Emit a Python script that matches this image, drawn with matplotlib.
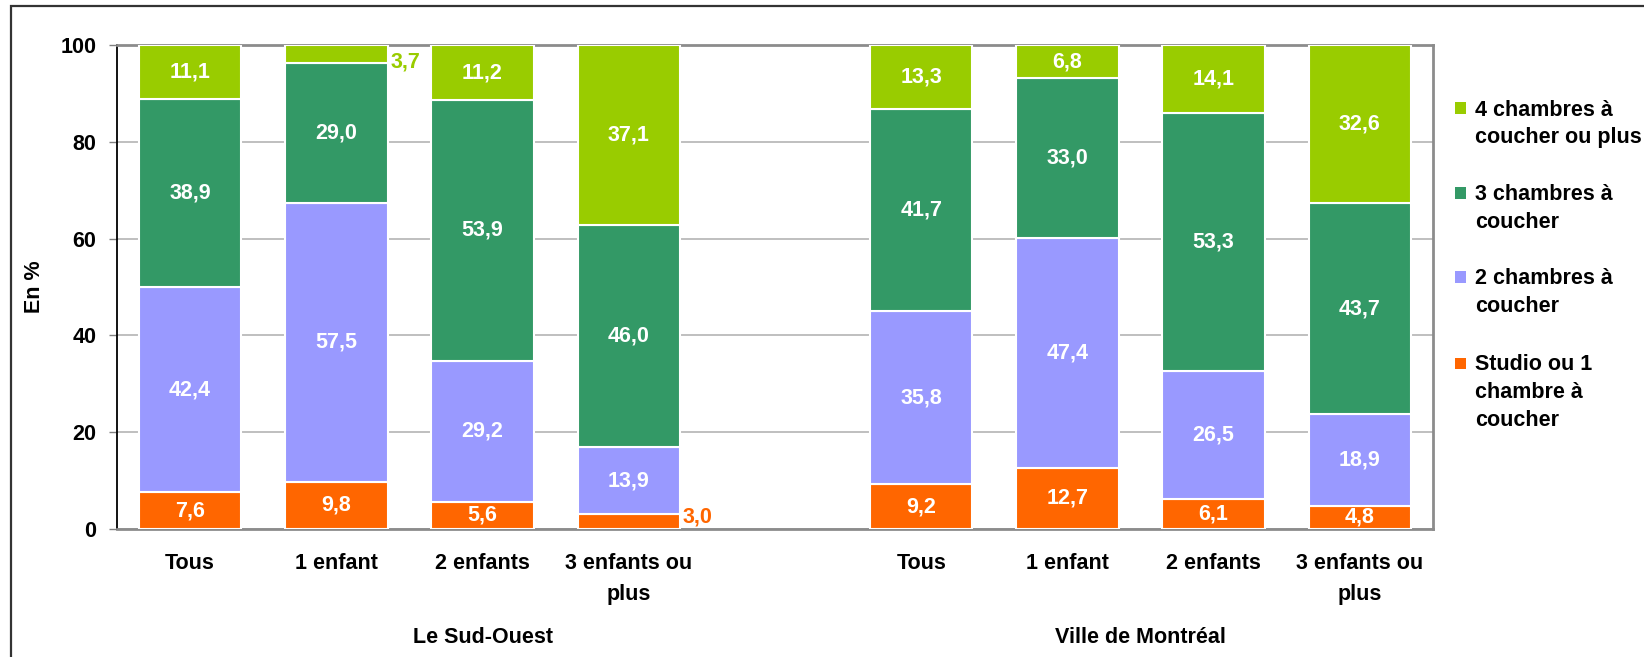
import matplotlib
matplotlib.use("Agg")
import matplotlib.pyplot as plt
from matplotlib.patches import Rectangle
import numpy as np

plt.rcParams['font.family'] = ['Liberation Sans', 'DejaVu Sans']
plt.rcParams['font.weight'] = 'bold'

# Data: share of households by dwelling size (%)
groups = ["Le Sud-Ouest", "Ville de Montréal"]
categories = ["Tous", "1 enfant", "2 enfants", "3 enfants ou\nplus"]
series_names = ["Studio ou 1\nchambre à\ncoucher", "2 chambres à\ncoucher",
                "3 chambres à\ncoucher", "4 chambres à\ncoucher ou plus"]
colors = ["#FF6600", "#9999FF", "#339966", "#99CC00"]

studio = [7.6, 9.8, 5.6, 3.0, 9.2, 12.7, 6.1, 4.8]
deux_ch = [42.4, 57.5, 29.2, 13.9, 35.8, 47.4, 26.5, 18.9]
trois_ch = [38.9, 29.0, 53.9, 46.0, 41.7, 33.0, 53.3, 43.7]
quatre_ch = [11.1, 3.7, 11.2, 37.1, 13.3, 6.8, 14.1, 32.6]
series = [studio, deux_ch, trois_ch, quatre_ch]

yticks = [0, 20, 40, 60, 80, 100]

FS = 15.5
W, H, DPI = 1644, 657, 100
fig = plt.figure(figsize=(W / DPI, H / DPI), dpi=DPI)
fig.patch.set_facecolor("white")

# outer frame (left and top edges visible)
fig.add_artist(Rectangle((11 / W, -0.2), 1.5, 1.2 - 6 / H, transform=fig.transFigure,
                         fill=False, edgecolor="#333333", linewidth=1.6))

ax = fig.add_axes([117 / W, (H - 529) / H, (1433 - 117) / W, (529 - 45) / H])

# slot positions: one empty slot between the two groups
n = len(categories)
x = np.array(list(range(n)) + [n + 1 + i for i in range(n)])
bar_w = 0.70

bottom = np.zeros(len(x))
for vals, col in zip(series, colors):
    vals = np.array(vals)
    ax.bar(x, vals, bar_w, bottom=bottom, color=col, edgecolor="white",
           linewidth=1.5, zorder=3)
    for xi, b, v in zip(x, bottom, vals):
        c = b + v / 2
        if v >= 4:
            ax.text(xi, c, f"{v:.1f}".replace(".", ","), ha="center", va="center",
                    color="white", fontsize=FS, fontweight="bold", zorder=4)
        else:
            yc = min(max(c, 2.5), 96.5)
            ax.text(xi + bar_w / 2 + 0.02, yc, f"{v:.1f}".replace(".", ","),
                    ha="left", va="center", color=col, fontsize=FS,
                    fontweight="bold", zorder=4)
    bottom = bottom + vals

ax.set_xlim(-0.5, 2 * n + 0.5)
ax.set_ylim(0, 100)
ax.set_yticks(yticks)
ax.set_yticklabels([str(t) for t in yticks], fontsize=FS, fontweight="bold")
ax.tick_params(axis="y", length=6, width=1, color="#808080", pad=9)
ax.set_xticks(x)
ax.set_xticklabels(categories * 2, fontsize=FS, fontweight="bold", linespacing=1.65)
ax.tick_params(axis="x", length=0, pad=17)

ax.grid(axis="y", color="#b4b4b4", linewidth=1.2, zorder=0)
ax.set_axisbelow(True)
for side in ["top", "right", "bottom"]:
    ax.spines[side].set_color("#8c8c8c")
    ax.spines[side].set_linewidth(2)
ax.spines["left"].set_color("black")
ax.spines["left"].set_linewidth(1.3)

fig.text(35 / W, (H - 287) / H, "En %", rotation=90, ha="center", va="center",
         fontsize=FS, fontweight="bold")

# group labels under each block of categories
group_centers = [(0 + n) / 2, (n + 1 + 2 * n) / 2]
for gx, g in zip(group_centers, groups):
    ax.text(gx, -0.225, g, transform=ax.get_xaxis_transform(), ha="center",
            va="center", fontsize=FS, fontweight="bold")

# legend, top series first; each text line placed on its own baseline
leg_y = [108, 193, 277, 363]
line_step = 27.5
cap_half = 7.5
for yy, name, col in zip(leg_y, series_names[::-1], colors[::-1]):
    fig.add_artist(Rectangle((1455 / W, (H - yy - 5.5) / H), 11 / W, 11 / H,
                             transform=fig.transFigure, facecolor=col,
                             edgecolor="none"))
    for k, line in enumerate(name.split("\n")):
        fig.text(1475 / W, (H - (yy + k * line_step + cap_half)) / H, line,
                 ha="left", va="baseline", fontsize=FS, fontweight="bold",
                 transform=fig.transFigure)

fig.savefig("out.png", dpi=DPI)
